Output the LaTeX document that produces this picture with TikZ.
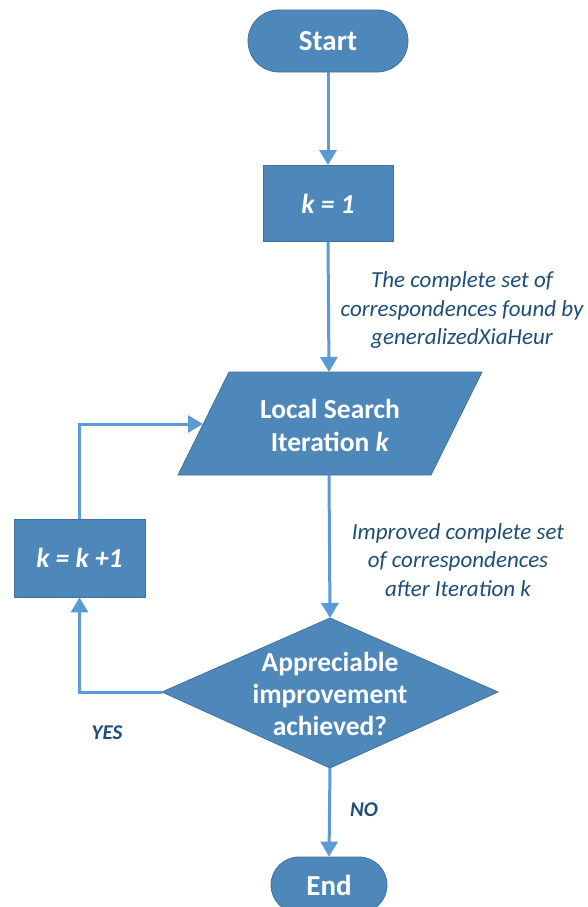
\documentclass[tikz,border=0pt]{standalone}
\usepackage{fontspec}
\setmainfont{Carlito}
\usetikzlibrary{shapes.misc,arrows.meta,positioning}
\definecolor{boxfill}{HTML}{4E87BA}
\definecolor{boxline}{HTML}{41719C}
\definecolor{arrowc}{HTML}{5B9BD5}
\definecolor{labelc}{HTML}{1F4E79}
\tikzset{
  term/.style={rounded rectangle, fill=boxfill, draw=boxline, line width=0.8pt, text=white, font=\fontsize{29}{33}\selectfont\bfseries, inner sep=0pt},
  procbox/.style={rectangle, fill=boxfill, draw=boxline, line width=0.8pt, text=white, font=\fontsize{27.5}{31}\selectfont\bfseries\itshape, inner sep=0pt},
  shapefill/.style={fill=boxfill, draw=boxline, line width=0.8pt, line join=miter},
  intext/.style={text=white, font=\fontsize{27.5}{33}\selectfont\bfseries, align=center},
  conn/.style={draw=arrowc, line width=3pt, -{Triangle[width=17pt,length=15pt]}},
  note/.style={text=labelc, font=\fontsize{23}{28.5}\selectfont\itshape, align=center},
  yn/.style={text=labelc, font=\fontsize{21}{24}\selectfont\bfseries\itshape}
}
\begin{document}
\begin{tikzpicture}[x=1pt,y=-1pt]
\useasboundingbox (0,0) rectangle (587,907);
\fill[white] (0,0) rectangle (587,907);

% Start
\node[term, minimum width=160pt, minimum height=62pt] (start) at (328,41) {Start};
% k = 1
\node[procbox, minimum width=130pt, minimum height=76pt] (k1) at (328,203.5) {k = 1};

% parallelogram
\coordinate (pTL) at (229,372);
\coordinate (pTR) at (482,372);
\coordinate (pBR) at (431,475);
\coordinate (pBL) at (178,475);
\path[shapefill] (pTL) -- (pTR) -- (pBR) -- (pBL) -- cycle;
\coordinate (pTop) at (329,372);
\coordinate (pBot) at (329,475);
\coordinate (pLeft) at (203,424);
\node[intext] (ls) at (330,425) {Local Search\\Iteration \textit{k}};

% k = k + 1
\node[procbox, minimum width=131pt, minimum height=78pt] (kk) at (79.5,558) {k = k +1};

% diamond
\coordinate (dT) at (330,618);
\coordinate (dR) at (498,692);
\coordinate (dB) at (330,768);
\coordinate (dL) at (162,692);
\path[shapefill] (dT) -- (dR) -- (dB) -- (dL) -- cycle;
\node[intext, font=\fontsize{27.5}{32}\selectfont\bfseries] (dec) at (330,694) {Appreciable\\improvement\\achieved?};

% End
\node[term, minimum width=116pt, minimum height=56pt] (end) at (329,885) {End};

% connectors
\draw[conn] (start.south) -- (k1.north);
\draw[conn] (k1.south) -- (pTop);
\draw[conn] (pBot) -- (dT);
\draw[conn] (dB) -- (end.north);
\draw[conn] (dL) -| (kk.south);
\draw[conn] (kk.north) |- (pLeft);

% labels
\node[note] (n1) at (462,310) {The complete set of\\correspondences found by\\generalizedXiaHeur};
\node[note] (n2) at (458,560) {Improved complete set\\of correspondences\\after Iteration k};
\node[yn] (yes) at (107,733) {YES};
\node[yn] (no) at (364,810) {NO};
\end{tikzpicture}
\end{document}
